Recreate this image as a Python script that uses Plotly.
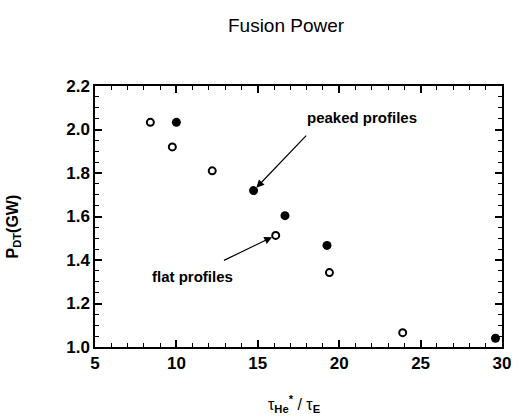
import plotly.graph_objects as go

flat_x = [8.4, 9.75, 12.2, 16.1, 19.4, 23.9]
flat_y = [2.033, 1.92, 1.81, 1.513, 1.342, 1.066]
peak_x = [10.0, 14.74, 16.67, 19.25, 29.6]
peak_y = [2.033, 1.719, 1.604, 1.467, 1.04]

x_ticks = [5, 10, 15, 20, 25, 30]
y_ticks = [1.0, 1.2, 1.4, 1.6, 1.8, 2.0, 2.2]
y_labels = ["1.0", "1.2", "1.4", "1.6", "1.8", "2.0", "2.2"]

FONT = "Liberation Sans, Arial, Helvetica, sans-serif"

fig = go.Figure()
fig.add_trace(go.Scatter(x=flat_x, y=flat_y, mode="markers",
                         marker=dict(symbol="circle-open", size=7, color="black",
                                     line=dict(width=2, color="black")),
                         showlegend=False))
fig.add_trace(go.Scatter(x=peak_x, y=peak_y, mode="markers",
                         marker=dict(symbol="circle", size=9, color="black"),
                         showlegend=False))

axis_common = dict(showgrid=False, zeroline=False, showline=True, linecolor="black",
                   linewidth=1.5, mirror="ticks", ticks="inside", ticklen=7,
                   tickwidth=1.5, tickcolor="black",
                   tickfont=dict(family=FONT, size=17, color="black"))

fig.update_xaxes(range=[5, 30], tickvals=x_ticks,
                 ticktext=["<b>%d</b>" % v for v in x_ticks],
                 minor=dict(dtick=1, ticks="inside", ticklen=4, tickwidth=1, tickcolor="black"),
                 **axis_common)
fig.update_yaxes(range=[1.0, 2.2], tickvals=y_ticks,
                 ticktext=["<b>%s</b>" % s for s in y_labels],
                 minor=dict(dtick=0.05, ticks="inside", ticklen=4, tickwidth=1, tickcolor="black"),
                 **axis_common)

fig.add_annotation(x=14.74, y=1.719, ax=18.06, ay=1.979, axref="x", ayref="y",
                   text="", showarrow=True, arrowhead=2, arrowsize=1.3, arrowwidth=1.2,
                   arrowcolor="black", standoff=4)
fig.add_annotation(x=16.1, y=1.513, ax=12.83, ay=1.395, axref="x", ayref="y",
                   text="", showarrow=True, arrowhead=2, arrowsize=1.3, arrowwidth=1.2,
                   arrowcolor="black", standoff=4)
fig.add_annotation(x=21.4, y=2.057, text="<b>peaked profiles</b>", showarrow=False,
                   font=dict(family=FONT, size=15, color="black"))
fig.add_annotation(x=11.0, y=1.322, text="<b>flat profiles</b>", showarrow=False,
                   font=dict(family=FONT, size=15, color="black"))

fig.add_annotation(x=0.49, y=-0.22, xref="paper", yref="paper", yanchor="middle",
                   text="τ<sub><b>He</b></sub><sup><b>*</b></sup> / τ<sub><b>E</b></sub>",
                   showarrow=False, font=dict(family=FONT, size=16, color="black"))
fig.add_annotation(x=-0.2, y=0.46, xref="paper", yref="paper", textangle=-90,
                   xanchor="center", yanchor="middle",
                   text="<b>P<sub>DT</sub>(GW)</b>", showarrow=False,
                   font=dict(family=FONT, size=16, color="black"))

fig.update_layout(
    width=522, height=419,
    margin=dict(l=95, r=20, t=86, b=72),
    paper_bgcolor="white", plot_bgcolor="white",
    title=dict(text="Fusion Power", x=0.548, xanchor="center", y=0.94, yanchor="middle",
               font=dict(family=FONT, size=19, color="black")),
)

fig.write_html("out.html")
